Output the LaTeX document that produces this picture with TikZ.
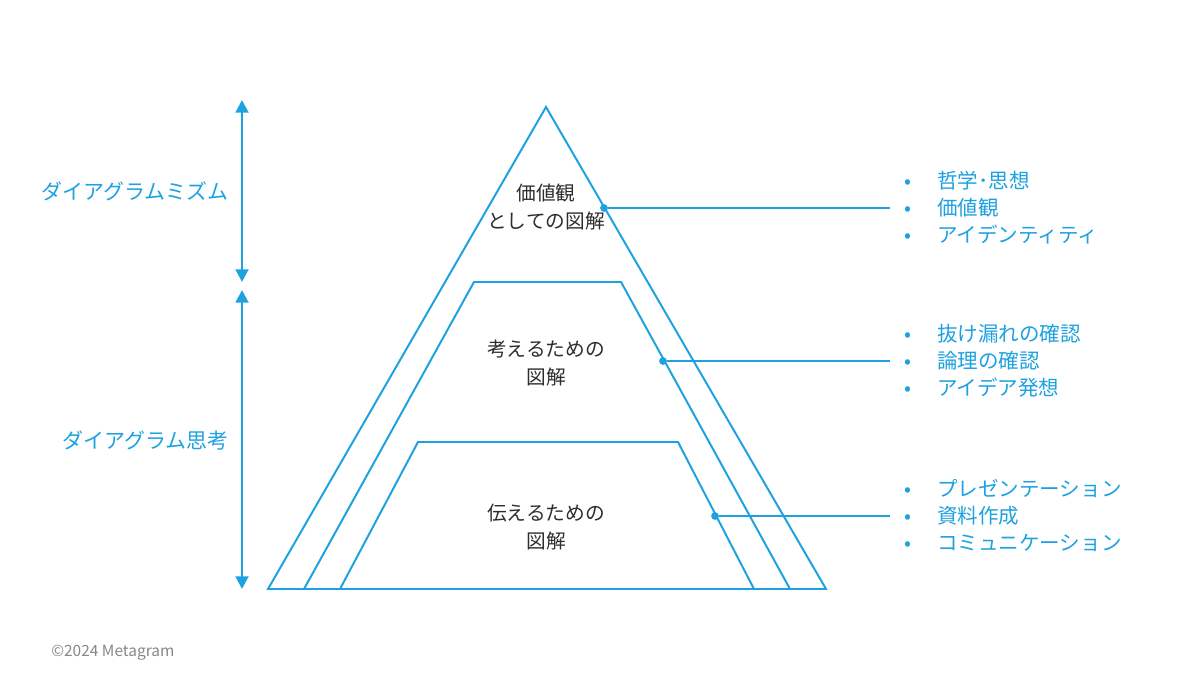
\documentclass[tikz,border=0pt]{standalone}
\usepackage{fontspec}
\setmainfont{Noto Sans CJK JP}
\usetikzlibrary{arrows.meta}
\definecolor{diagBlue}{RGB}{29,161,224}
\definecolor{diagText}{RGB}{45,45,45}
\definecolor{noteGray}{RGB}{135,135,135}
\newcommand{\bul}[1]{\makebox[1.65em][l]{\hspace{0.05em}•}#1}

\begin{document}
\begin{tikzpicture}[x=0.025cm,y=-0.025cm,
  layer/.style={diagBlue,line width=1.4pt,line join=miter},
  dot/.style={circle,fill=diagBlue,inner sep=0pt,minimum size=5.5pt},
  list/.style={diagBlue,anchor=west,align=left,inner sep=0pt,font=\fontsize{14.6}{19.2}\selectfont},
  lvl/.style={diagText,align=center,inner sep=0pt,font=\fontsize{14}{19.9}\selectfont},
  side/.style={diagBlue,inner sep=0pt,font=\fontsize{14.9}{18}\selectfont},
  span/.style={diagBlue,line width=2pt,{Triangle[width=9pt,length=9pt]}-{Triangle[width=9pt,length=9pt]}}]
\useasboundingbox (0,0) rectangle (1200,690);
% pyramid
\draw[layer] (268,589) -- (546,107) -- (826,589) -- cycle;
\draw[layer] (304,589) -- (474,282) -- (621,282) -- (790,589);
\draw[layer] (340,589) -- (418,442) -- (678,442) -- (754,589);
\node[lvl] (valueTxt) at (546,207) {価値観\\としての図解};
\node[lvl] (thinkTxt) at (546,363) {考えるための\\図解};
\node[lvl] (tellTxt) at (546,527) {伝えるための\\図解};
% side ranges
\coordinate (ismTop) at (242,100);
\coordinate (ismBot) at (242,282);
\coordinate (thkTop) at (242,290);
\coordinate (thkBot) at (242,589);
\draw[span] (ismBot) -- (ismTop);
\draw[span] (thkBot) -- (thkTop);
\node[side,anchor=east] (ismLbl) at (229,191) {ダイアグラムミズム};
\node[side,anchor=east] (thkLbl) at (229,440) {ダイアグラム思考};
% leaders
\node[dot] (valueDot) at (604,208) {};
\node[dot] (thinkDot) at (663,361) {};
\node[dot] (tellDot) at (715,516) {};
\coordinate (valueEnd) at (890,208);
\coordinate (thinkEnd) at (890,361);
\coordinate (tellEnd) at (890,516);
\draw[diagBlue,line width=1pt] (valueDot) -- (valueEnd);
\draw[diagBlue,line width=1pt] (thinkDot) -- (thinkEnd);
\draw[diagBlue,line width=1pt] (tellDot) -- (tellEnd);
\node[list] (valueList) at (903,208) {\bul{哲学･思想}\\\bul{価値観}\\\bul{アイデンティティ}};
\node[list] (thinkList) at (903,361) {\bul{抜け漏れの確認}\\\bul{論理の確認}\\\bul{アイデア発想}};
\node[list] (tellList) at (903,515) {\bul{プレゼンテーション}\\\bul{資料作成}\\\bul{コミュニケーション}};
\node[noteGray,anchor=west,inner sep=0pt,font=\fontsize{11}{13}\selectfont] (credit) at (51,653) {©2024 Metagram};
\end{tikzpicture}
\end{document}
